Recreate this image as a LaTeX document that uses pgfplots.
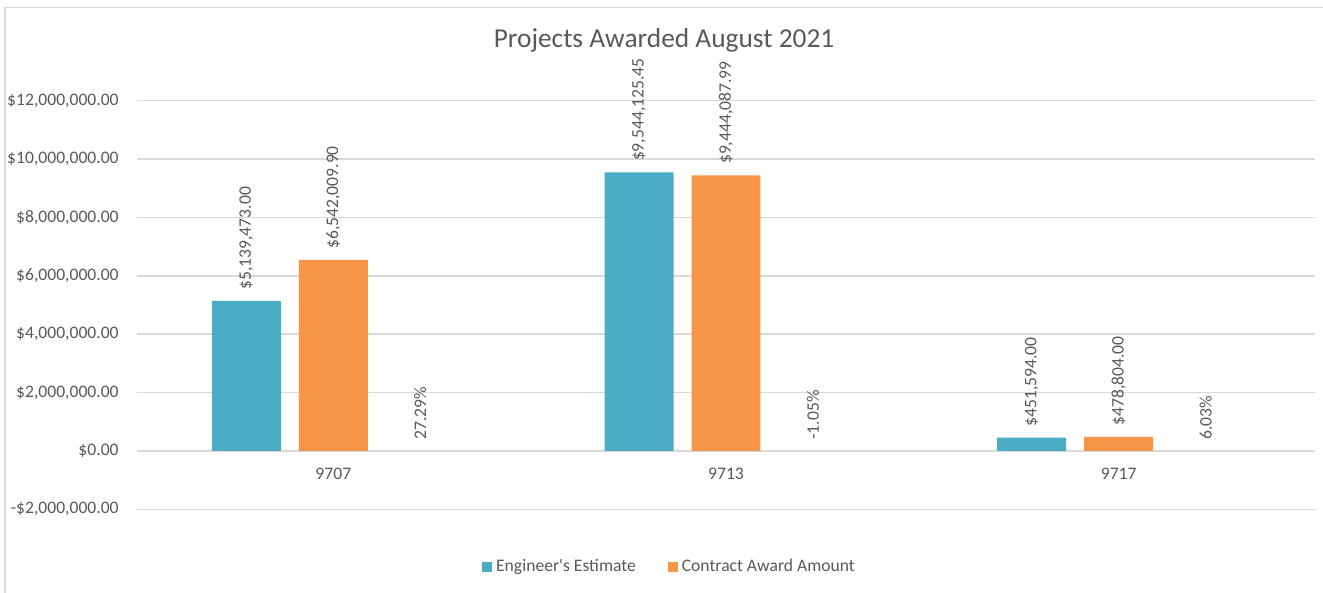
\documentclass[border=0pt]{standalone}
\usepackage{fontspec}
\setmainfont{Carlito}[Ligatures=TeXOff]
\usepackage{pgfplots}
\pgfplotsset{compat=1.18}
\definecolor{estim}{HTML}{4BACC6}
\definecolor{award}{HTML}{F79646}
\definecolor{txtgray}{HTML}{595959}
\definecolor{gridgray}{HTML}{D9D9D9}
\begin{document}
\begin{tikzpicture}
\useasboundingbox (-68.5pt,-41.85pt) rectangle (593pt,254.65pt);
% chart frame (top and left edges visible)
\draw[gridgray, line width=0.7pt] (-66pt,-41.85pt) -- (-66pt,250.9pt) -- (593pt,250.9pt);
\begin{axis}[
    scale only axis,
    width=589pt, height=204.3pt,
    xmin=-0.5, xmax=2.5,
    ymin=-2000000, ymax=12000000,
    ybar, bar width=0.1757,
    clip=false,
    axis line style={draw=none},
    major tick length=0pt,
    ymajorgrids=true,
    grid style={gridgray, line width=0.7pt},
    xtick={0,1,2},
    xticklabels={9707,9713,9717},
    ytick={-2000000,0,2000000,4000000,6000000,8000000,10000000,12000000},
    yticklabels={{-\$2,000,000.00},{\$0.00},{\$2,000,000.00},{\$4,000,000.00},{\$6,000,000.00},{\$8,000,000.00},{\$10,000,000.00},{\$12,000,000.00}},
    scaled y ticks=false,
    tick label style={font=\fontsize{8.8}{10}\selectfont, text=txtgray},
    yticklabel style={anchor=east, inner sep=0pt, xshift=-9pt},
    xticklabel style={anchor=base, inner sep=0pt, yshift=14.65pt},
    title={Projects Awarded August 2021},
    every axis title shift=0pt,
    title style={at={(0.4474,1.129)}, anchor=base, inner sep=0pt, font=\fontsize{13.7}{16}\selectfont, text=txtgray},
    nodes near coords,
    point meta=explicit symbolic,
    every node near coord/.append style={rotate=90, anchor=west, inner sep=0pt, inner xsep=5.5pt, font=\fontsize{8.8}{10}\selectfont, text=txtgray},
    legend columns=2,
    legend style={at={(0.4512,-0.1412)}, anchor=center, draw=none, fill=none, inner sep=0pt,
        nodes={inner sep=0pt, anchor=base west, font=\fontsize{8.8}{10}\selectfont, text=txtgray},
        /tikz/every odd column/.append style={column sep=2pt},
        /tikz/every even column/.append style={column sep=16pt}},
    legend image code/.code={\fill[#1] (0pt,0pt) rectangle (5pt,5pt);},
]

% Engineer's Estimate
\addplot[fill=estim, draw=none, bar shift=-0.2215] coordinates {
    (0,5139473.00) [\$5,139,473.00]
    (1,9544125.45) [\$9,544,125.45]
    (2,451594.00) [\$451,594.00]
};

% Contract Award Amount
\addplot[fill=award, draw=none, bar shift=0] coordinates {
    (0,6542009.90) [\$6,542,009.90]
    (1,9444087.99) [\$9,444,087.99]
    (2,478804.00) [\$478,804.00]
};

% percent difference (bars too small to see)
\addplot[fill=none, draw=none, bar shift=0.2215] coordinates {
    (0,0.2729) [27.29\%]
    (1,-0.0105) [-1.05\%]
    (2,0.0603) [6.03\%]
};

\legend{Engineer's Estimate, Contract Award Amount}
\end{axis}
\end{tikzpicture}
\end{document}
